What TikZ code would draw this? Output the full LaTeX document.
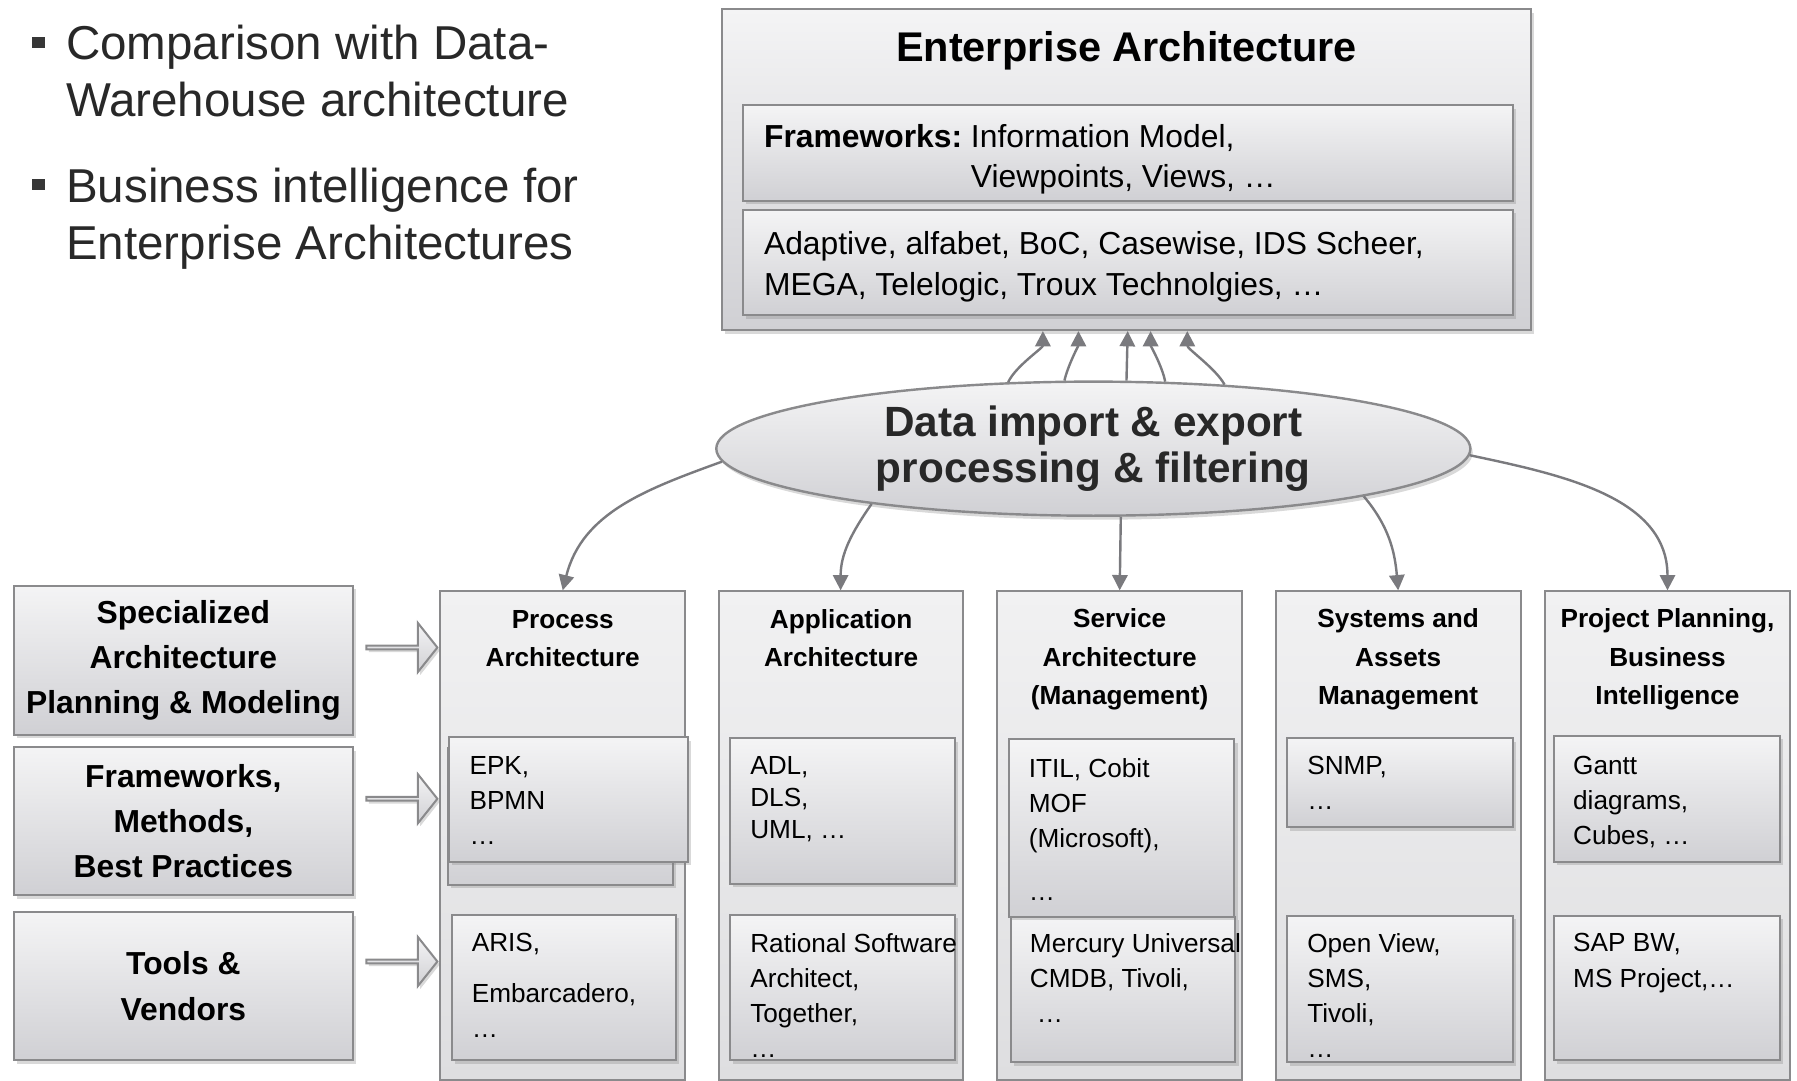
\documentclass[tikz,border=0pt]{standalone}
\usepackage{fontspec}
\setmainfont{Liberation Sans}
\frenchspacing
\usetikzlibrary{arrows.meta, positioning, calc, shapes.geometric, shapes.arrows, shadows}
\definecolor{boxline}{RGB}{138,138,140}
\definecolor{boxtop}{RGB}{244,244,245}
\definecolor{boxbot}{RGB}{208,208,212}
\definecolor{coltop}{RGB}{241,241,242}
\definecolor{colbot}{RGB}{222,222,224}
\definecolor{linkc}{RGB}{122,122,126}
\definecolor{txtdark}{RGB}{40,40,40}
\definecolor{bulletc}{RGB}{55,55,55}

\begin{document}
\begin{tikzpicture}[x=0.1mm, y=0.1mm,
	gbox/.style={draw=boxline, line width=0.5pt, top color=boxtop, bottom color=boxbot, inner sep=0pt,
		drop shadow={shadow xshift=0.8pt, shadow yshift=-0.9pt, opacity=0.3}},
	colbox/.style={draw=boxline, line width=0.5pt, top color=coltop, bottom color=colbot, inner sep=0pt},
	link/.style={draw=linkc, line width=0.6pt, -{Triangle[length=3.8pt, width=3.8pt]}},
	itemtxt/.style={font=\fontsize{6.5}{8.7}\selectfont, align=left, inner sep=0pt, anchor=north west},
	eatxt/.style={font=\fontsize{7.9}{9.8}\selectfont, align=left, inner sep=0pt, anchor=north west},
	coltitle/.style={font=\bfseries\fontsize{6.5}{9.5}\selectfont, align=center, inner sep=0pt},
	sidebox/.style={gbox, minimum width=29.6mm, align=center, font=\bfseries\fontsize{7.9}{11.2}\selectfont},
	blockarr/.style={single arrow, draw=boxline, line width=0.5pt, top color=boxtop, bottom color=boxbot,
		minimum width=4.3mm, minimum height=6.2mm, single arrow head extend=1.05mm,
		single arrow tip angle=103, inner sep=0pt,
		drop shadow={shadow xshift=0.6pt, shadow yshift=-0.7pt, opacity=0.3}},
	bullettxt/.style={font=\fontsize{11.8}{14.1}\selectfont, align=left, inner sep=0pt, anchor=north west, text=txtdark}]
	\useasboundingbox (0,0) rectangle (1568,943);
	% bullets
	\fill[bulletc] (28,901) rectangle (39,911);
	\node[bullettxt] (bul1) at (57,922) {Comparison with Data-\\Warehouse architecture};
	\fill[bulletc] (28,777) rectangle (39,787);
	\node[bullettxt] (bul2) at (57,797) {Business intelligence for\\Enterprise Architectures};
	% enterprise architecture
	\node[gbox, minimum width=70.6mm, minimum height=28mm] (ea) at (983,795) {};
	\node[font=\bfseries\fontsize{10.3}{12}\selectfont, inner sep=0pt] (eatitle) at (983,899) {Enterprise Architecture};
	\node[gbox, minimum width=67.2mm, minimum height=8.3mm] (eafw) at (984,809.5) {};
	\node[gbox, minimum width=67.2mm, minimum height=9.2mm] (eavend) at (984,714) {};
	\node[eatxt] (tfw) at (666,835)
		{\textbf{Frameworks:} Information Model,\\\phantom{\textbf{Frameworks:}}\ Viewpoints, Views, …};
	\node[eatxt, font=\fontsize{7.9}{10.2}\selectfont] (tvend) at (666,742)
		{Adaptive, alfabet, BoC, Casewise, IDS Scheer,\\MEGA, Telelogic, Troux Technolgies, …};
	% columns
	\node[colbox, minimum width=21.4mm, minimum height=42.6mm] (colproc) at (491,214) {};
	\node[colbox, minimum width=21.3mm, minimum height=42.6mm] (colapp) at (733.5,214) {};
	\node[colbox, minimum width=21.4mm, minimum height=42.6mm] (colsrv) at (977,214) {};
	\node[colbox, minimum width=21.4mm, minimum height=42.6mm] (colsys) at (1220,214) {};
	\node[colbox, minimum width=21.4mm, minimum height=42.6mm] (colprj) at (1455,214) {};
	\node[coltitle] (tproc) at (491,386) {Process\\Architecture};
	\node[coltitle] (tapp) at (734,386) {Application\\Architecture};
	\node[coltitle] (tsrv) at (977,367.5) {Service\\Architecture\\(Management)};
	\node[coltitle] (tsys) at (1220,367.5) {Systems and\\Assets\\Management};
	\node[coltitle] (tprj) at (1455,367.5) {Project Planning,\\Business\\Intelligence};
	% boxes inside the columns
	\node[gbox, minimum width=19.6mm, minimum height=11.9mm] (bproc0) at (489,230.5) {};
	\node[gbox, minimum width=20.8mm, minimum height=10.9mm] (bproc1) at (496,245.5) {};
	\node[gbox, minimum width=19.6mm, minimum height=12.7mm] (bproc2) at (492,81.5) {};
	\node[gbox, minimum width=19.6mm, minimum height=12.7mm] (bapp1) at (735,235.5) {};
	\node[gbox, minimum width=19.6mm, minimum height=12.7mm] (bapp2) at (735,81.5) {};
	\node[gbox, minimum width=19.6mm, minimum height=12.7mm] (bsrv2) at (980,79.5) {};
	\node[gbox, minimum width=19.7mm, minimum height=15.5mm] (bsrv1) at (978.5,220.5) {};
	\node[gbox, minimum width=19.7mm, minimum height=7.8mm] (bsys1) at (1221.5,260) {};
	\node[gbox, minimum width=19.7mm, minimum height=12.8mm] (bsys2) at (1221.5,80) {};
	\node[gbox, minimum width=19.7mm, minimum height=11mm] (bprj1) at (1454.5,246) {};
	\node[gbox, minimum width=19.7mm, minimum height=12.6mm] (bprj2) at (1454.5,81) {};
	\node[itemtxt] (iproc1) at (409,284) {EPK,\\BPMN\\…};
	\node[itemtxt] (iproc2) at (411,129) {ARIS,\\[3.8pt]Embarcadero,\\…};
	\node[itemtxt, font=\fontsize{6.5}{8}\selectfont] (iapp1) at (654,284) {ADL,\\DLS,\\UML, …};
	\node[itemtxt] (iapp2) at (654,129) {Rational Software\\Architect,\\Together,\\…};
	\node[itemtxt] (isrv1) at (897,282) {ITIL, Cobit\\MOF\\(Microsoft),\\[4.5pt]…};
	\node[itemtxt] (isrv2) at (898,129) {Mercury Universal\\CMDB, Tivoli,\\\hspace*{1.7pt}…};
	\node[itemtxt] (isys1) at (1140,284) {SNMP,\\…};
	\node[itemtxt] (isys2) at (1140,129) {Open View,\\SMS,\\Tivoli,\\…};
	\node[itemtxt] (iprj1) at (1372,284) {Gantt\\diagrams,\\Cubes, …};
	\node[itemtxt] (iprj2) at (1372,129) {SAP BW,\\MS Project,…};
	% left side
	\node[sidebox, minimum height=13mm] (spec) at (160,367) {Specialized\\Architecture\\Planning \& Modeling};
	\node[sidebox, minimum height=12.9mm] (frm) at (160,226.5) {Frameworks,\\Methods,\\Best Practices};
	\node[sidebox, minimum height=12.9mm] (tools) at (160,82.5) {Tools \&\\Vendors};
	\node[blockarr] (barr1) at (350,378) {};
	\node[blockarr] (barr2) at (350,246) {};
	\node[blockarr] (barr3) at (350,104) {};
	% data import ellipse
	\node[ellipse, draw=boxline, line width=0.6pt, top color=boxtop, bottom color=boxbot,
		minimum width=65.8mm, minimum height=11.7mm, inner sep=0pt, align=center, text=txtdark,
		font=\bfseries\fontsize{10.5}{11.4}\selectfont,
		drop shadow={shadow xshift=0.6pt, shadow yshift=-1pt, opacity=0.3}] (dimport) at (954,551.5)
		{Data import \& export\\processing \& filtering};
	% arrows up
	\draw[link] (dimport.142) to[out=66,in=-90,looseness=0.7] ($(ea.south)+(-73,0)$);
	\draw[link] (dimport.113) to[out=78,in=-90,looseness=0.7] ($(ea.south)+(-42,0)$);
	\draw[link] (dimport.64) -- ($(ea.south)+(1,0)$);
	\draw[link] (dimport.43) to[out=100,in=-90,looseness=0.7] ($(ea.south)+(21,0)$);
	\draw[link] (dimport.26) to[out=118,in=-90,looseness=0.7] ($(ea.south)+(53,0)$);
	% arrows down
	\draw[link] (dimport.182) to[out=200,in=76] (colproc.north);
	\draw[link] (dimport.194) to[out=235,in=90] (colapp.north);
	\draw[link] (dimport.292) -- (colsrv.north);
	\draw[link] (dimport.-10) to[out=-50,in=95] (colsys.north);
	\draw[link] (dimport.-1) to[out=-12,in=90] (colprj.north);
\end{tikzpicture}
\end{document}
